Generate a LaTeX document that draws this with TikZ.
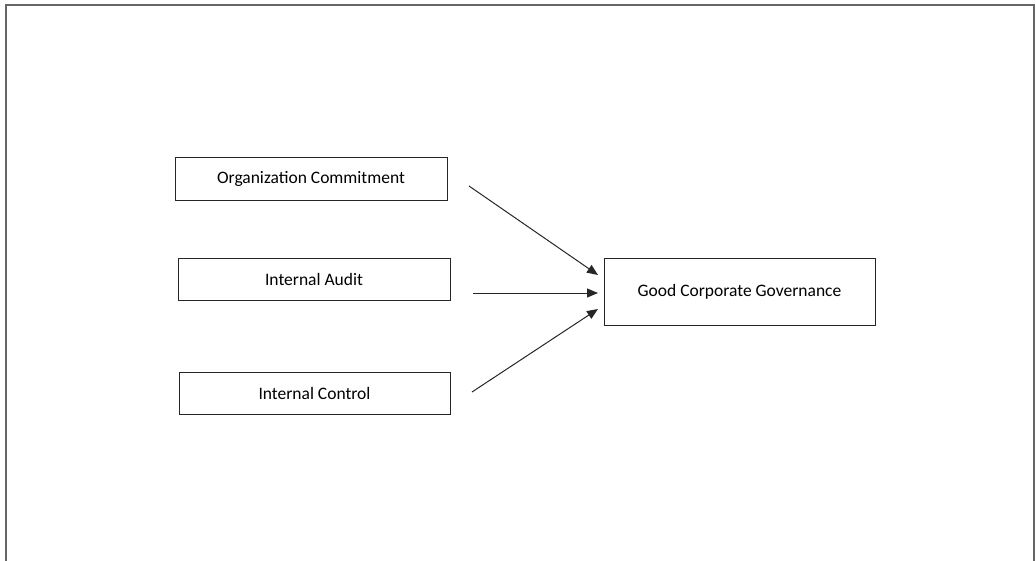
\documentclass[tikz,border=0pt]{standalone}
\usepackage{fontspec}
\setmainfont{Carlito}
\usetikzlibrary{arrows.meta}
\begin{document}
\begin{tikzpicture}[x=1pt,y=-1pt,
  box/.style={draw=black!85,line width=0.9pt,inner sep=0pt,font=\fontsize{17.5}{20}\selectfont},
  arr/.style={draw=black!85,line width=1pt,-{Triangle[length=11pt,width=9pt]}}]
\useasboundingbox (0,0) rectangle (1036,560);
\draw[gray!80!black,line width=2pt] (6,561) -- (6,5) -- (1034,5) -- (1034,561);
\node[box,minimum width=272pt,minimum height=43pt] (oc) at (311,178.5) {Organization Commitment};
\node[box,minimum width=272pt,minimum height=42pt] (ia) at (314,279) {Internal Audit};
\node[box,minimum width=271pt,minimum height=42pt] (ic) at (314.5,393) {Internal Control};
\node[box,minimum width=271pt,minimum height=67pt] (gcg) at (739.5,291.5) {Good Corporate Governance};
\coordinate (s1) at (469,186);
\coordinate (s2) at (473,293);
\coordinate (s3) at (472,392);
\coordinate (t1) at (598,275);
\coordinate (t2) at (598,293);
\coordinate (t3) at (598,309);
\draw[arr] (s1) -- (t1);
\draw[arr] (s2) -- (t2);
\draw[arr] (s3) -- (t3);
\end{tikzpicture}
\end{document}
